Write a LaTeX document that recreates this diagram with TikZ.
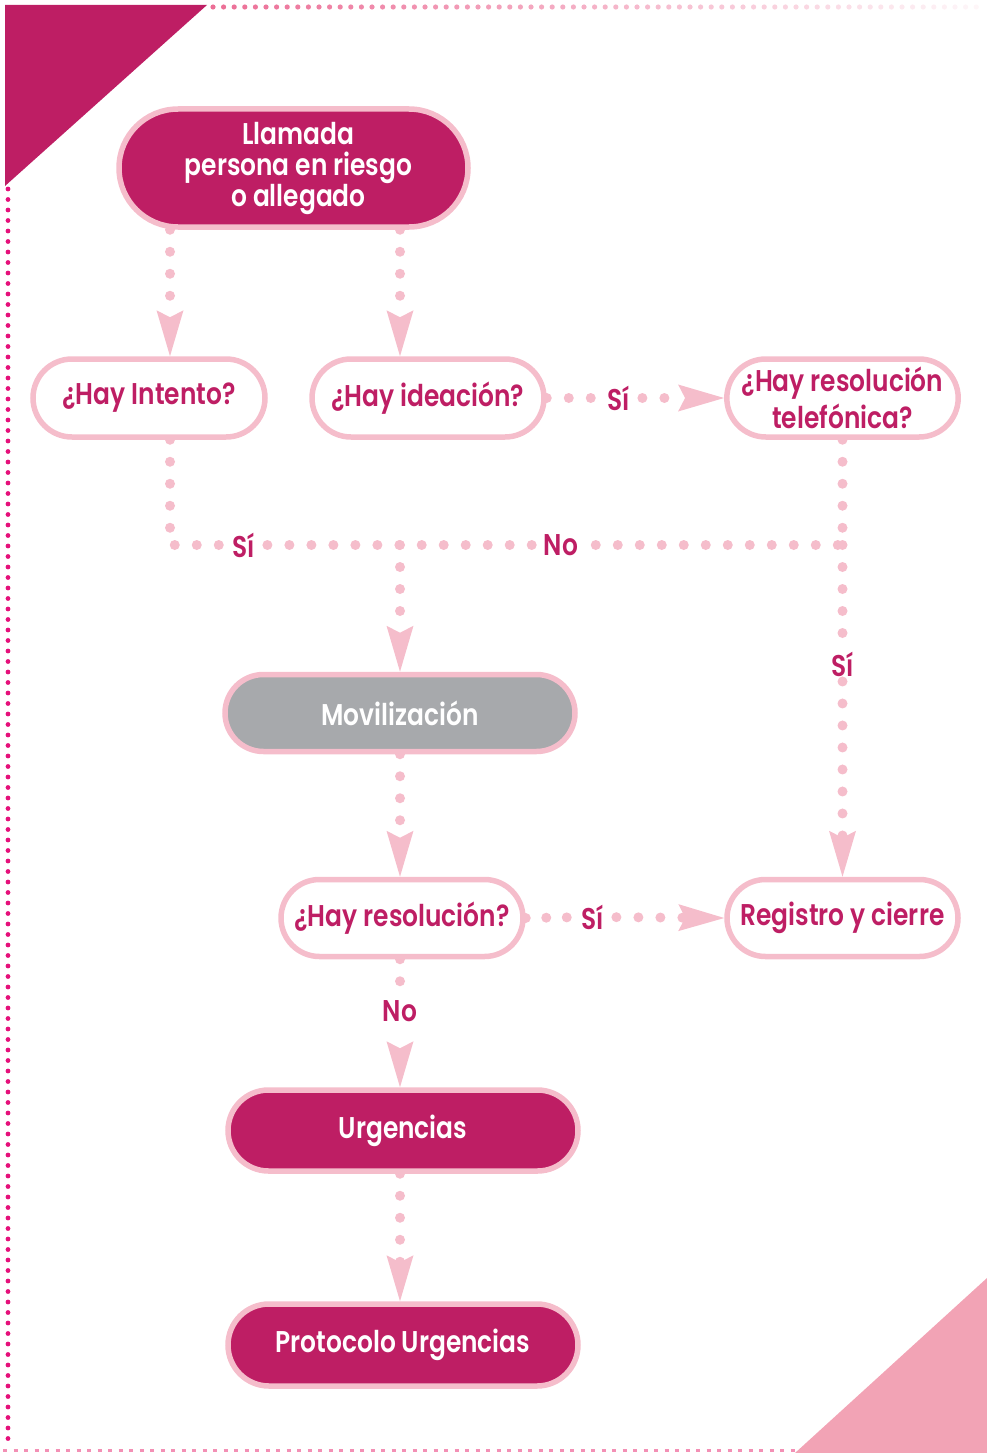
\documentclass[tikz,border=0pt]{standalone}
\usepackage{fontspec}
\setmainfont{Poppins}[FakeStretch=0.83, BoldFont={Poppins SemiBold}]
\usetikzlibrary{arrows.meta,shapes.misc,backgrounds}

\definecolor{magen}{HTML}{BE1E64}
\definecolor{rim}{HTML}{F5BDCB}
\definecolor{grayfill}{HTML}{A7A9AC}
\definecolor{hotdot}{HTML}{E5107A}
\definecolor{topdot}{HTML}{EC6E96}
\definecolor{botdash}{HTML}{F390B5}
\definecolor{cornerpink}{HTML}{F2A3B5}

\newcommand\flowfont{\fontsize{30}{31}\selectfont\bfseries}

\begin{document}
\begin{tikzpicture}[x=1pt,y=-1pt,
  pill/.style={rounded rectangle, draw=rim, line width=5.5pt, inner sep=0pt,
    align=center, font=\flowfont},
  filledbox/.style={pill, fill=magen, text=white},
  openbox/.style={pill, fill=white, text=magen},
  graybox/.style={pill, fill=grayfill, text=white},
  lbl/.style={text=magen, font=\flowfont, inner xsep=12pt, inner ysep=5pt},
  conn/.style={draw=rim, line width=10pt, line cap=round, dash pattern=on 0pt off 22pt},
  tip/.style={-{Stealth[length=46pt,width=27pt,inset=7pt,line width'=0pt,fill=rim,color=rim]}},
  tiponly/.style={draw=rim, line width=10pt, dash pattern=on 0pt off 300pt, dash phase=150pt, tip}
]
\useasboundingbox (0,0) rectangle (987,1453);

% corner decorations and page frame
\fill[magen] (5,5) -- (207,5) -- (5,186) -- cycle;
\fill[cornerpink] (795,1453) -- (987,1278) -- (987,1453) -- cycle;
\foreach \i in {0,...,72} {
  \pgfmathsetmacro\shade{max(4,100-\i*1.3)}
  \fill[topdot!\shade!white] (213+\i*10.6,7) circle (2.6);
}
\foreach \y in {189,199.5,...,1445} \fill[hotdot] (8,\y) circle (2.4);
\draw[botdash, line width=2.4pt, dash pattern=on 4pt off 6.5pt] (3,1450.5) -- (795,1450.5);

% flow boxes
\node[filledbox, minimum width=349pt, minimum height=118pt] (llamada) at (293.5,168)
  {\hspace*{10pt}Llamada\\\hspace*{10pt}persona en riesgo\\\hspace*{10pt}o allegado};
\node[openbox, minimum width=232pt, minimum height=78pt] (intento) at (149,398) {¿Hay Intento?};
\node[openbox, minimum width=232pt, minimum height=78pt] (ideacion) at (428,398) {¿Hay ideación?};
\node[openbox, minimum width=231pt, minimum height=78pt] (telef) at (842.5,398)
  {¿Hay resolución\\[3pt]telefónica?};
\node[graybox, minimum width=350pt, minimum height=77pt] (moviliz) at (400,713) {Movilización};
\node[openbox, minimum width=242pt, minimum height=77pt] (resol) at (402,918) {¿Hay resolución?};
\node[openbox, minimum width=231pt, minimum height=77pt] (registro) at (842.5,918) {Registro y cierre};
\node[filledbox, minimum width=350pt, minimum height=81pt] (urg) at (403,1130.5) {Urgencias};
\node[filledbox, minimum width=350pt, minimum height=82pt] (prot) at (403,1345) {Protocolo Urgencias};

% branch labels
\node[lbl] (siB) at (619,398) {Sí};
\node[lbl] (siA) at (244,545) {Sí};
\node[lbl] (noA) at (561,545) {No};
\node[lbl] (siC) at (842.5,664) {Sí};
\node[lbl] (siD) at (593,917) {Sí};
\node[lbl] (noB) at (400,1011) {No};

% guide points for the dotted routes
\coordinate (xA) at (170,0);
\coordinate (xB) at (400,0);
\coordinate (cA) at (170,545);
\coordinate (jn) at (400,545);
\coordinate (cB) at (842.5,545);

\begin{pgfonlayer}{background}
  \draw[conn, tip] (llamada.south -| xA) -- (intento.north -| xA);
  \draw[conn, tip] (llamada.south -| xB) -- (ideacion.north -| xB);
  \draw[conn] (ideacion.east) -- (siB);
  \draw[conn, tip] (siB) -- (telef.west);
  \draw[conn] (intento.south -| xA) -- (cA) -- (siA);
  \draw[conn] (siA) -- (jn);
  \draw[conn] (telef.south) -- (cB) -- (noA);
  \draw[conn] (noA) -- (jn);
  \draw[conn, tip] (jn) -- (moviliz.north);
  \draw[conn] (cB) -- (siC);
  \draw[conn, tip] (siC) -- (registro.north);
  \draw[conn, tip] (moviliz.south) -- (moviliz.south |- resol.north);
  \draw[conn, dash pattern=on 0pt off 20.5pt] (resol.east) -- (siD);
  \draw[conn, tip] (siD) -- (registro.west);
  \draw[conn] (resol.south -| xB) -- (noB);
  \draw[tiponly] (noB) -- (urg.north -| xB);
  \draw[conn, tip] (urg.south -| xB) -- (prot.north -| xB);
\end{pgfonlayer}
\end{tikzpicture}
\end{document}
